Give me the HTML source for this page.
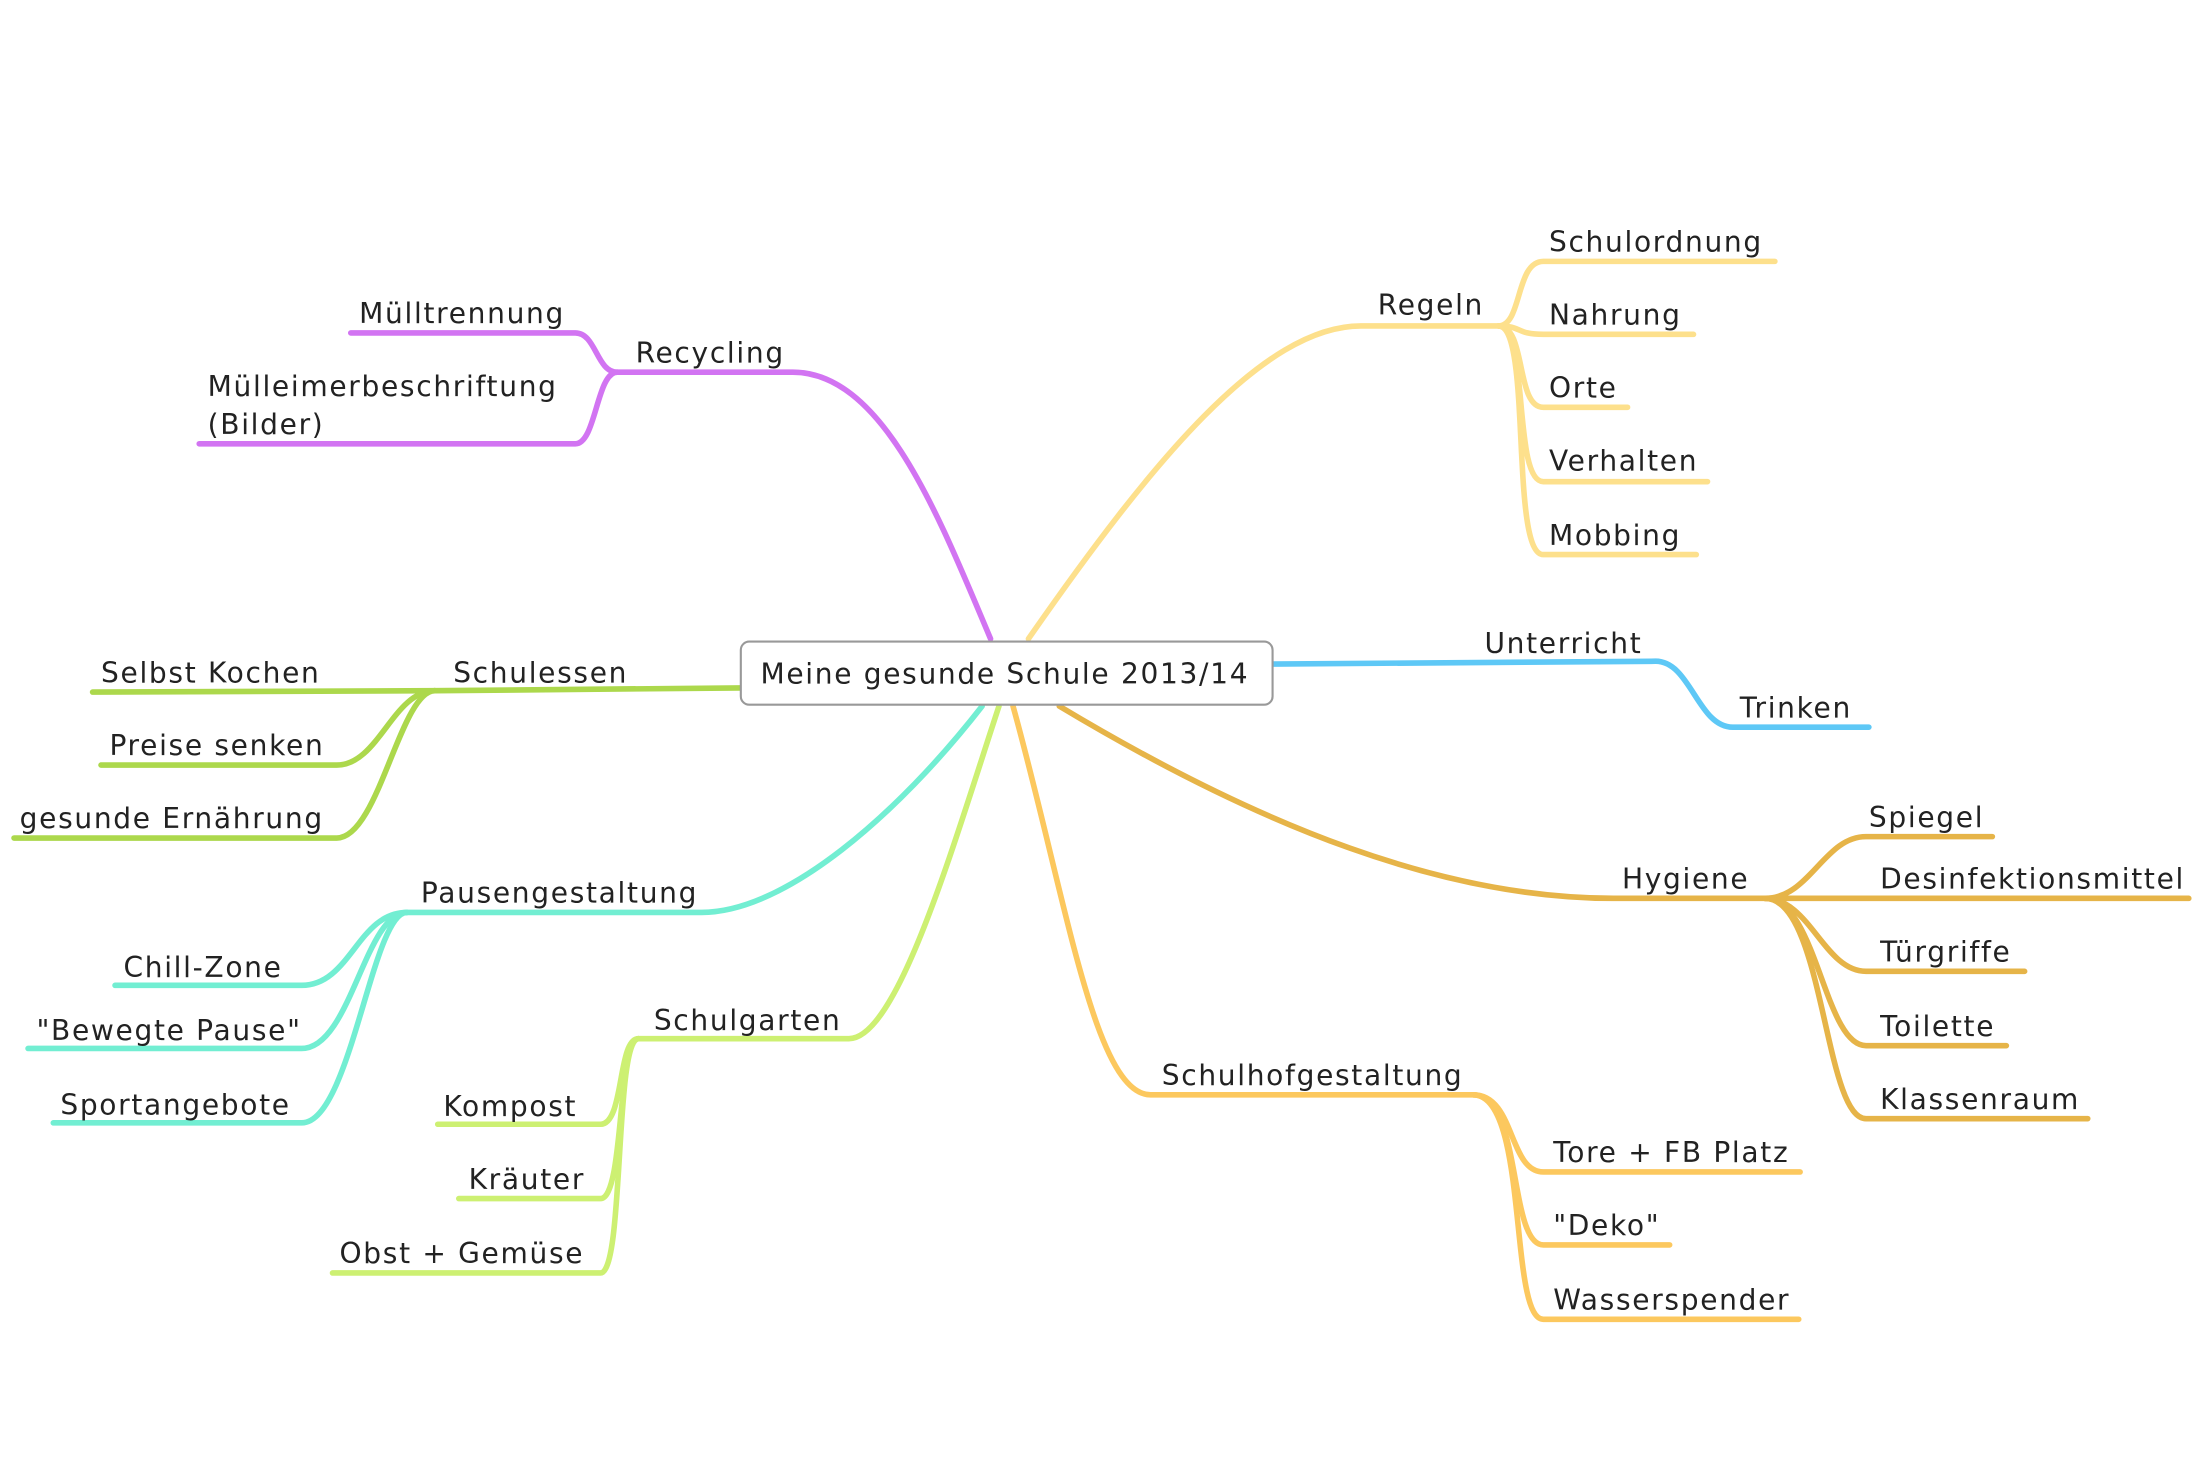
<!DOCTYPE html>
<html><head><meta charset="utf-8"><style>
html,body{margin:0;padding:0;background:#fff;}
svg{display:block;}
text{font-family:"DejaVu Sans","Liberation Sans",sans-serif;font-size:20px;letter-spacing:1.2px;fill:#222;}
path{fill:none;stroke-width:4;stroke-linecap:round;}
</style></head><body>
<svg width="2200" height="1467" viewBox="0 0 1568 1045" xmlns="http://www.w3.org/2000/svg">
<g stroke="#d274f2">
<path d="M706,455 C670,370 630,265 565,265 L440,265"/>
<path d="M440,265 C425,265 425,237 410,237 L250,237"/>
<path d="M440,265 C425,265 425,316 410,316 L142,316"/>
</g>
<text x="453" y="258">Recycling</text>
<text x="256" y="230">Mülltrennung</text>
<text x="148" y="282">Mülleimerbeschriftung</text>
<text x="148" y="309">(Bilder)</text>
<g stroke="#fde08c">
<path d="M733,455 C820,330 900,232 970,232 L1068,232"/>
<path d="M1068,232 C1085,232 1080,186 1100,186 L1265,186"/>
<path d="M1068,232 C1085,232 1080,238 1100,238 L1207,238"/>
<path d="M1068,232 C1088,232 1080,290 1100,290 L1160,290"/>
<path d="M1068,232 C1090,232 1078,343 1100,343 L1217,343"/>
<path d="M1068,232 C1092,232 1076,395 1100,395 L1209,395"/>
</g>
<text x="982" y="224">Regeln</text>
<text x="1104" y="179">Schulordnung</text>
<text x="1104" y="231">Nahrung</text>
<text x="1104" y="283">Orte</text>
<text x="1104" y="335">Verhalten</text>
<text x="1104" y="388">Mobbing</text>
<g stroke="#5ec8f6">
<path d="M907,473 L1180,471 C1205,471 1210,518 1235,518 L1332,518"/>
</g>
<text x="1058" y="465">Unterricht</text>
<text x="1240" y="511">Trinken</text>
<g stroke="#e6b448">
<path d="M755,503 C900,590 1030,640 1150,640 L1258,640"/>
<path d="M1258,640 C1290,640 1300,596 1330,596 L1420,596"/>
<path d="M1258,640 L1560,640"/>
<path d="M1258,640 C1290,640 1300,692 1330,692 L1443,692"/>
<path d="M1258,640 C1295,640 1300,745 1330,745 L1430,745"/>
<path d="M1258,640 C1300,640 1300,797 1330,797 L1488,797"/>
</g>
<text x="1156" y="633">Hygiene</text>
<text x="1332" y="589">Spiegel</text>
<text x="1340" y="633">Desinfektionsmittel</text>
<text x="1340" y="685">Türgriffe</text>
<text x="1340" y="738">Toilette</text>
<text x="1340" y="790">Klassenraum</text>
<g stroke="#fcc85e">
<path d="M722,503 C760,640 780,780 820,780 L1050,780"/>
<path d="M1050,780 C1080,780 1075,835 1100,835 L1283,835"/>
<path d="M1050,780 C1085,780 1075,887 1100,887 L1190,887"/>
<path d="M1050,780 C1090,780 1075,940 1100,940 L1282,940"/>
</g>
<text x="828" y="773">Schulhofgestaltung</text>
<text x="1107" y="828">Tore + FB Platz</text>
<text x="1107" y="880">"Deko"</text>
<text x="1107" y="933">Wasserspender</text>
<g stroke="#cdf072">
<path d="M712,503 C680,600 640,740 605,740 L455,740"/>
<path d="M455,740 C440,740 445,801 428,801 L312,801"/>
<path d="M455,740 C440,740 445,854 428,854 L327,854"/>
<path d="M455,740 C438,740 445,907 428,907 L237,907"/>
</g>
<text x="466" y="734">Schulgarten</text>
<text x="316" y="795">Kompost</text>
<text x="334" y="847">Kräuter</text>
<text x="242" y="900">Obst + Gemüse</text>
<g stroke="#72eed2">
<path d="M700,503 C640,580 560,650 500,650 L290,650"/>
<path d="M290,650 C255,650 250,702 215,702 L82,702"/>
<path d="M290,650 C260,650 250,747 215,747 L20,747"/>
<path d="M290,650 C265,650 250,800 215,800 L38,800"/>
</g>
<text x="300" y="643">Pausengestaltung</text>
<text x="88" y="696">Chill-Zone</text>
<text x="26" y="741">"Bewegte Pause"</text>
<text x="43" y="794">Sportangebote</text>
<g stroke="#acd84c">
<path d="M528,490 L310,492"/>
<path d="M310,492 L66,493"/>
<path d="M310,492 C280,492 270,545 240,545 L72,545"/>
<path d="M310,492 C285,492 270,597 240,597 L10,597"/>
</g>
<text x="323" y="486">Schulessen</text>
<text x="72" y="486">Selbst Kochen</text>
<text x="78" y="538">Preise senken</text>
<text x="14" y="590">gesunde Ernährung</text>
<rect x="528" y="457" width="379" height="45" rx="6" ry="6" fill="#fff" stroke="#999" stroke-width="1.5"/>
<text x="542" y="487">Meine gesunde Schule 2013/14</text>
</svg>
</body></html>
